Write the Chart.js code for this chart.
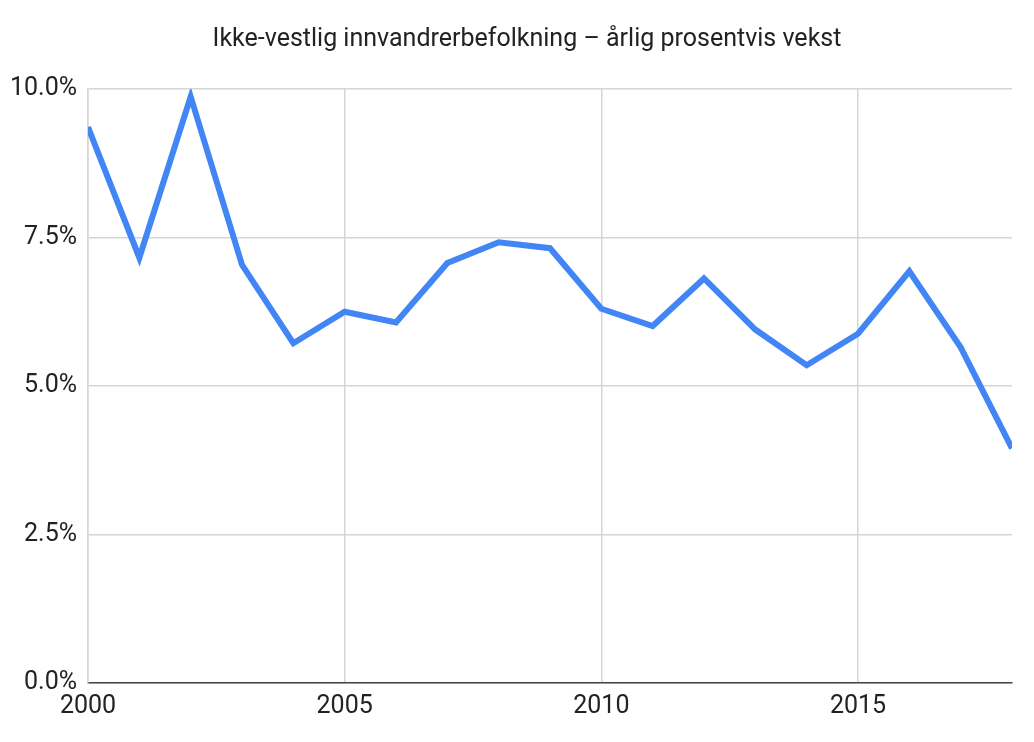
<!DOCTYPE html>
<html>
<head>
  <meta charset="utf-8">
  <title>Ikke-vestlig innvandrerbefolkning</title>
  <script src="https://cdn.jsdelivr.net/npm/chart.js@4.4.1/dist/chart.umd.min.js"></script>
  <style>
    html, body { margin: 0; padding: 0; background: #fff; }
    #wrap { width: 1034px; height: 742px; }
  </style>
</head>
<body>
  <div id="wrap"><canvas id="myChart" width="1034" height="742"></canvas></div>
<script>
// data
const years = [2000, 2001, 2002, 2003, 2004, 2005, 2006, 2007, 2008, 2009,
               2010, 2011, 2012, 2013, 2014, 2015, 2016, 2017, 2018];
const growth = [9.36, 7.16, 9.87, 7.04, 5.72, 6.25, 6.07, 7.07, 7.42, 7.32,
                6.30, 6.01, 6.81, 5.95, 5.35, 5.88, 6.93, 5.65, 3.95];
const xTicks = [2000, 2005, 2010, 2015];
const yTicks = [0, 2.5, 5, 7.5, 10];
const titleText = "Ikke-vestlig innvandrerbefolkning \u2013 årlig prosentvis vekst";

const FONT = "Roboto, 'Noto Sans', sans-serif";
Chart.defaults.font.family = FONT;
Chart.defaults.color = "#222";

const points = years.map((y, i) => ({ x: y, y: growth[i] }));

// title sits a bit left of the plot centre in the original, so draw it ourselves
const titlePlugin = {
  id: "sheetTitle",
  afterDraw(chart) {
    const c = chart.ctx;
    c.save();
    c.font = "25px " + FONT;
    c.fillStyle = "#222";
    c.textAlign = "center";
    c.textBaseline = "middle";
    c.fillText(titleText, 527, 40);
    c.restore();
  }
};

const config = {
  type: "line",
  data: {
    datasets: [{
      label: "Vekst",
      data: points,
      borderColor: "#4285f4",
      backgroundColor: "#4285f4",
      borderWidth: 6,
      pointRadius: 0,
      tension: 0,
      borderJoinStyle: "miter",
      fill: false
    }]
  },
  options: {
    responsive: false,
    animation: false,
    devicePixelRatio: 1,
    layout: { padding: { left: 0, right: 22, top: 89, bottom: 0 } },
    plugins: {
      legend: { display: false },
      tooltip: { enabled: false },
      title: { display: false }
    },
    scales: {
      x: {
        type: "linear",
        min: years[0],
        max: years[years.length - 1],
        afterBuildTicks: (scale) => { scale.ticks = xTicks.map(v => ({ value: v })); },
        afterFit: (scale) => { scale.height = 742 - 683; },
        ticks: {
          font: { size: 25 },
          color: "#222",
          padding: 9,
          maxRotation: 0,
          callback: (v) => String(v)
        },
        grid: { color: "#d6d6d6", lineWidth: 1.5, drawTicks: false },
        border: { color: "#444", width: 1.5 }
      },
      y: {
        min: 0,
        max: 10,
        afterBuildTicks: (scale) => { scale.ticks = yTicks.map(v => ({ value: v })); },
        afterFit: (scale) => { scale.width = 88; },
        ticks: {
          font: { size: 25 },
          color: "#222",
          padding: 11,
          callback: (v) => v.toFixed(1) + "%"
        },
        grid: { color: "#d6d6d6", lineWidth: 1.5, drawTicks: false },
        border: { color: "#d6d6d6", width: 1.5 }
      }
    }
  },
  plugins: [titlePlugin]
};

const ctx = document.getElementById("myChart");
const myChart = new Chart(ctx, config);
</script>
</body>
</html>
